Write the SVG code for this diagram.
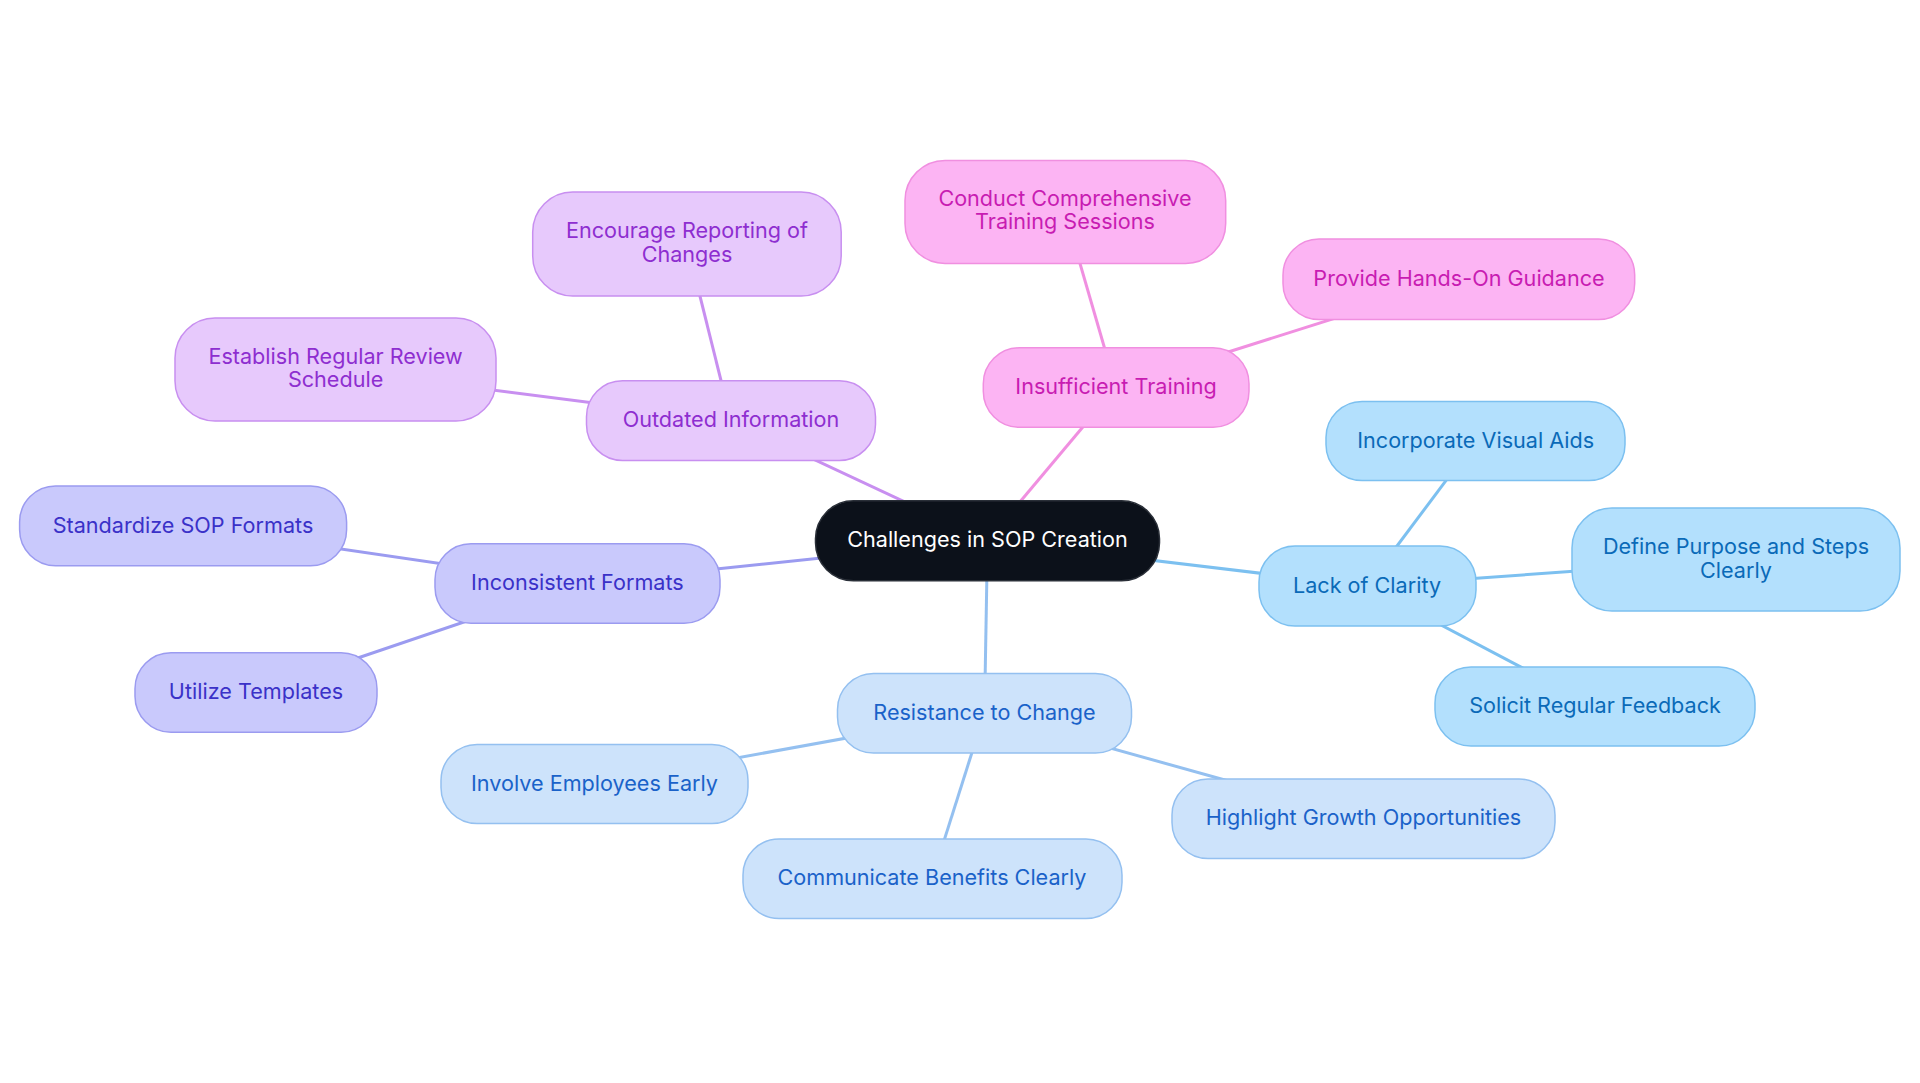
<svg xmlns="http://www.w3.org/2000/svg" width="1920" height="1083" viewBox="0 0 1920 1083">
<style>
  text { font-family: Inter, "Noto Sans", "Liberation Sans", sans-serif; font-size: 21.6px; text-anchor: middle; dominant-baseline: central; }
  .edge { fill: none; stroke-width: 3; }
  .c0 rect { fill: #0c111a; stroke: #2a2f38; stroke-width: 1.5; }
  .c0 text { fill: #ffffff; }
  .cb rect { fill: #b3e0fd; stroke: #7cc0f0; stroke-width: 1.5; }
  .cb text { fill: #0a6ab8; }
  .cr rect { fill: #cde3fb; stroke: #94c0f0; stroke-width: 1.5; }
  .cr text { fill: #1a62c9; }
  .ci rect { fill: #c9c9fc; stroke: #9b9bf0; stroke-width: 1.5; }
  .ci text { fill: #3a31c8; }
  .co rect { fill: #e7c9fc; stroke: #c88ff0; stroke-width: 1.5; }
  .co text { fill: #8e2ed0; }
  .ct rect { fill: #fcb4f3; stroke: #f08fe0; stroke-width: 1.5; }
  .ct text { fill: #c81cb2; }
  .eb { stroke: #7cc0f0; }
  .er { stroke: #94c0f0; }
  .ei { stroke: #9b9bf0; }
  .eo { stroke: #c88ff0; }
  .et { stroke: #f08fe0; }
</style>
<rect width="1920" height="1083" fill="#ffffff"/>
<g id="connectors">
  <line class="edge eb" x1="987.5" y1="540.6" x2="1367" y2="586"/>
  <line class="edge eb" x1="1367" y1="586" x2="1475.7" y2="440.9"/>
  <line class="edge eb" x1="1367" y1="586" x2="1736" y2="559.7"/>
  <line class="edge eb" x1="1367" y1="586" x2="1595" y2="706"/>
  <line class="edge er" x1="987.5" y1="540.6" x2="984.5" y2="713"/>
  <line class="edge er" x1="984.5" y1="713" x2="594.5" y2="783.8"/>
  <line class="edge er" x1="984.5" y1="713" x2="932" y2="878.6"/>
  <line class="edge er" x1="984.5" y1="713" x2="1363.5" y2="818.6"/>
  <line class="edge ei" x1="987.5" y1="540.6" x2="577.4" y2="583.5"/>
  <line class="edge ei" x1="577.4" y1="583.5" x2="183" y2="526"/>
  <line class="edge ei" x1="577.4" y1="583.5" x2="256" y2="692.5"/>
  <line class="edge eo" x1="987.5" y1="540.6" x2="731" y2="420.6"/>
  <line class="edge eo" x1="731" y1="420.6" x2="687" y2="244"/>
  <line class="edge eo" x1="731" y1="420.6" x2="335.6" y2="369.7"/>
  <line class="edge et" x1="987.5" y1="540.6" x2="1116" y2="387.5"/>
  <line class="edge et" x1="1116" y1="387.5" x2="1065" y2="211.8"/>
  <line class="edge et" x1="1116" y1="387.5" x2="1459" y2="279"/>
</g>
<g id="n-root" class="c0">
  <rect x="815.5" y="500.8" width="344" height="80" rx="38"/>
  <text x="987.5" y="539.4">Challenges in SOP Creation</text>
</g>
<g id="n-clarity" class="cb">
  <rect x="1259" y="546" width="217" height="80" rx="36"/>
  <text x="1367" y="584.8">Lack of Clarity</text>
</g>
<g id="n-visual" class="cb">
  <rect x="1326" y="401.5" width="299" height="79" rx="36"/>
  <text x="1475.7" y="439.7">Incorporate Visual Aids</text>
</g>
<g id="n-define" class="cb">
  <rect x="1572" y="508" width="328" height="103" rx="40"/>
  <text x="1736" y="546.3">Define Purpose and Steps</text>
  <text x="1736" y="569.8">Clearly</text>
</g>
<g id="n-feedback" class="cb">
  <rect x="1435" y="667" width="320" height="79" rx="36"/>
  <text x="1595" y="704.8">Solicit Regular Feedback</text>
</g>
<g id="n-resist" class="cr">
  <rect x="837.5" y="673.5" width="294" height="79.5" rx="36"/>
  <text x="984.5" y="711.8">Resistance to Change</text>
</g>
<g id="n-involve" class="cr">
  <rect x="441" y="744.5" width="307" height="79" rx="36"/>
  <text x="594.5" y="782.6">Involve Employees Early</text>
</g>
<g id="n-communicate" class="cr">
  <rect x="743" y="839" width="379" height="79.5" rx="36"/>
  <text x="932" y="877.4">Communicate Benefits Clearly</text>
</g>
<g id="n-growth" class="cr">
  <rect x="1172" y="779" width="383" height="79.5" rx="36"/>
  <text x="1363.5" y="817.4">Highlight Growth Opportunities</text>
</g>
<g id="n-formats" class="ci">
  <rect x="435" y="543.7" width="285" height="79.6" rx="36"/>
  <text x="577.4" y="582.3">Inconsistent Formats</text>
</g>
<g id="n-standardize" class="ci">
  <rect x="19.6" y="486" width="327" height="79.7" rx="36"/>
  <text x="183" y="524.8">Standardize SOP Formats</text>
</g>
<g id="n-templates" class="ci">
  <rect x="135" y="652.7" width="242" height="79.6" rx="36"/>
  <text x="256" y="691.3">Utilize Templates</text>
</g>
<g id="n-outdated" class="co">
  <rect x="586.5" y="380.8" width="289" height="79.6" rx="36"/>
  <text x="731" y="419.4">Outdated Information</text>
</g>
<g id="n-encourage" class="co">
  <rect x="532.7" y="192" width="308.5" height="104" rx="40"/>
  <text x="687" y="230.3">Encourage Reporting of</text>
  <text x="687" y="253.8">Changes</text>
</g>
<g id="n-review" class="co">
  <rect x="175" y="318" width="321" height="103" rx="40"/>
  <text x="335.6" y="355.8">Establish Regular Review</text>
  <text x="335.6" y="379.3">Schedule</text>
</g>
<g id="n-training" class="ct">
  <rect x="983.3" y="347.8" width="265.7" height="79.5" rx="36"/>
  <text x="1116" y="386.3">Insufficient Training</text>
</g>
<g id="n-conduct" class="ct">
  <rect x="905" y="160.4" width="320.7" height="103" rx="40"/>
  <text x="1065" y="197.8">Conduct Comprehensive</text>
  <text x="1065" y="221.3">Training Sessions</text>
</g>
<g id="n-handson" class="ct">
  <rect x="1283" y="239" width="351.7" height="80.6" rx="36"/>
  <text x="1459" y="277.8">Provide Hands-On Guidance</text>
</g>
</svg>
